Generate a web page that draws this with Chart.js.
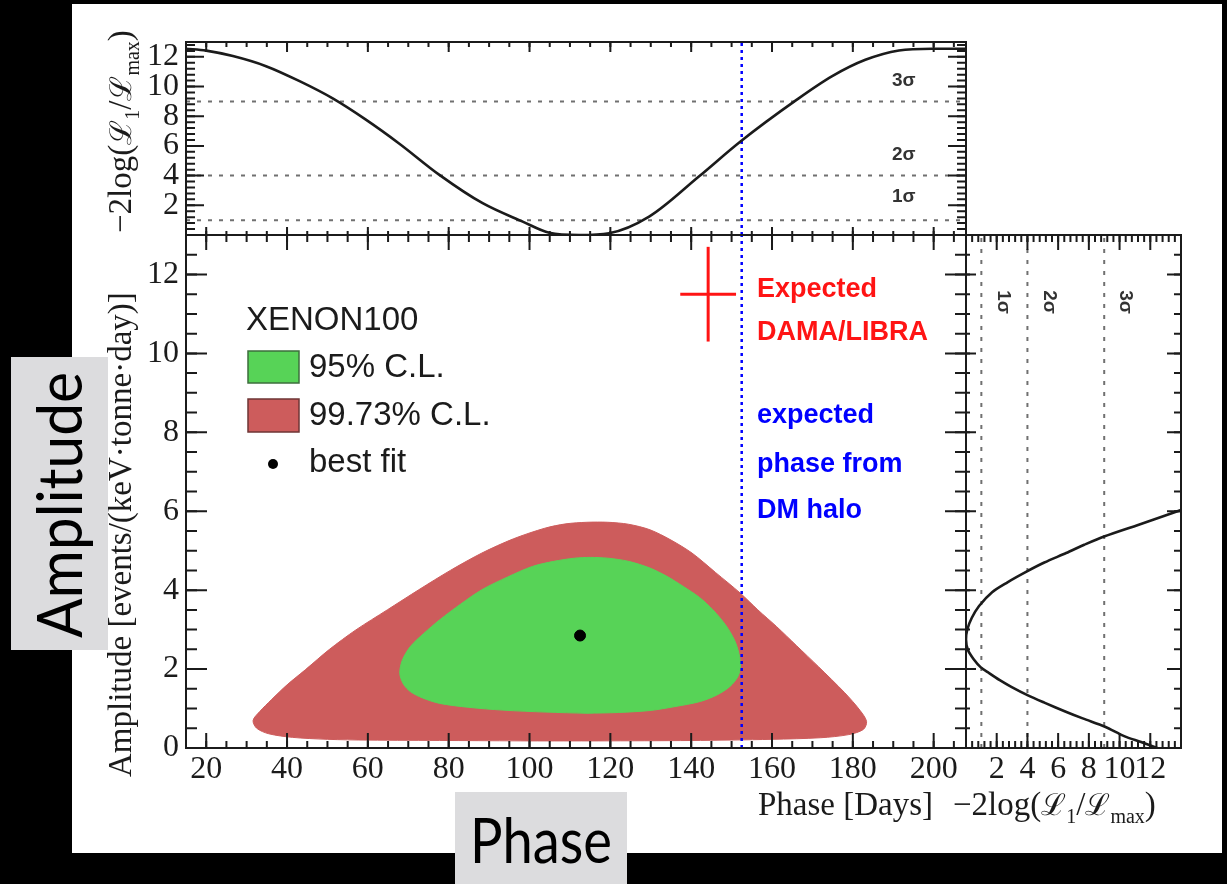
<!DOCTYPE html>
<html>
<head>
<meta charset="utf-8">
<title>XENON100 annual modulation: amplitude vs phase</title>
<script src="https://cdn.jsdelivr.net/npm/chart.js@4.4.1/dist/chart.umd.min.js"></script>
<style>
  html, body { margin: 0; padding: 0; background: #000; }
  body { width: 1227px; height: 884px; position: relative; overflow: hidden; }
  #sheet { position: absolute; left: 72px; top: 4px; width: 1150px; height: 849px; background: #fff; }
  canvas { position: absolute; left: 0; top: 0; }
</style>
</head>
<body>
<div id="sheet"></div>
<canvas id="phaseProfile" width="1227" height="884"></canvas>
<canvas id="contourPlane" width="1227" height="884"></canvas>
<canvas id="ampProfile" width="1227" height="884"></canvas>
<script>
// ---------------- data ----------------
// axis ranges
const PHASE_MIN = 15, PHASE_MAX = 208;        // days
const AMP_MIN = 0, AMP_MAX = 13;              // events/(keV tonne day)
const LL_MIN = 0, LL_MAX_TOP = 13, LL_MAX_SIDE = 14;

// labelled tick values
const phaseTicks = [20, 40, 60, 80, 100, 120, 140, 160, 180, 200];
const ampTicks = [0, 2, 4, 6, 8, 10, 12];
const llTopTicks = [2, 4, 6, 8, 10, 12];
const llSideTicks = [2, 4, 6, 8, 10, 12];

// confidence levels of -2 log(L1/Lmax)
const sigmaLevels = [1, 4, 9];
const sigmaNames = ['1\u03c3', '2\u03c3', '3\u03c3'];

// profile likelihood as a function of phase (upper panel)
const profPhaseDays = [15, 20, 26.6, 34.8, 43.1, 51.3, 59.5, 67.8, 77.7, 88.4, 98.3, 104.9, 112.3, 119.7, 129.6, 141.9, 152.2, 165.8, 174.9, 183.1, 191.4, 199.6, 208];
const profPhaseLL   = [12.55, 12.42, 12.05, 11.37, 10.36, 9.2, 7.77, 6.15, 4.05, 2.14, 0.9, 0.15, 0.0, 0.12, 1.24, 3.94, 6.3, 9.05, 10.7, 11.8, 12.43, 12.55, 12.55];

// profile likelihood as a function of amplitude (side panel)
const profAmpValues = [0.0, 0.15, 0.3, 0.54, 0.75, 0.92, 1.15, 1.34, 1.55, 1.72, 1.9, 2.05, 2.25, 2.49, 2.75, 3.0, 3.3, 3.6, 3.95, 4.2, 4.47, 4.7, 4.94, 5.15, 5.36, 5.66, 5.95, 6.1];
const profAmpLL     = [12.45, 11.4, 10.3, 9.05, 7.6, 6.5, 5.1, 4.0, 2.95, 2.2, 1.5, 0.95, 0.5, 0.12, 0.0, 0.08, 0.38, 0.85, 1.7, 2.7, 3.94, 5.1, 6.52, 7.7, 8.99, 11.25, 13.4, 14.5];

// 99.73% C.L. contour (phase, amplitude)
const cl9973Phase = [117, 140, 160, 172, 179, 182.6, 183.4, 181.8, 178, 171.5, 166, 161.1, 156.5, 152.2, 146, 140.2, 135, 129.8, 124.5, 119.4, 114.2, 109, 103.8, 96, 88.2, 80.4, 72.6, 64.8, 57, 50.5, 44.5, 40, 36.1, 33.3, 31.6, 32.5, 35.5, 41.3, 50, 60, 80, 100, 117];
const cl9973Amp   = [0.18, 0.19, 0.22, 0.26, 0.34, 0.47, 0.67, 0.95, 1.4, 2.06, 2.6, 3.08, 3.5, 3.92, 4.45, 4.94, 5.27, 5.53, 5.67, 5.72, 5.72, 5.68, 5.57, 5.3, 4.94, 4.5, 4.01, 3.5, 2.99, 2.5, 1.98, 1.6, 1.22, 0.93, 0.7, 0.5, 0.36, 0.27, 0.22, 0.2, 0.19, 0.18, 0.18];

// 95% C.L. contour (phase, amplitude)
const cl95Phase = [114.2, 122, 129.8, 136, 142.3, 146.5, 149.6, 151.5, 152.2, 151.8, 150.7, 148.5, 145.4, 142, 138.1, 134, 129.8, 124.5, 119.4, 115, 111.1, 106, 100.7, 94.5, 88.2, 83, 77.8, 73.8, 70.5, 68.5, 67.9, 68.8, 70.5, 73.5, 77.8, 85, 93.4, 104, 114.2];
const cl95Amp   = [0.88, 0.9, 0.95, 1.05, 1.18, 1.35, 1.56, 1.8, 2.06, 2.4, 2.74, 3.12, 3.5, 3.82, 4.09, 4.35, 4.56, 4.73, 4.81, 4.83, 4.81, 4.73, 4.6, 4.33, 4.01, 3.65, 3.25, 2.9, 2.57, 2.22, 1.89, 1.62, 1.43, 1.27, 1.13, 1.03, 0.96, 0.91, 0.88];

// best fit, expected halo phase, DAMA/LIBRA expectation
const bestFitPhase = [112.5];
const bestFitAmp = [2.85];
const haloPhase = 152.5;
const damaPhase = 144.2, damaPhaseErr = 6.9;
const damaAmp = 11.5, damaAmpErr = 1.2;

// ---------------- styling ----------------
const SERIF = "'Liberation Serif', 'DejaVu Serif', serif";
const SANS = "'Liberation Sans', Arial, sans-serif";
const INK = '#1b1b1b';
const RED_FILL = '#cd5c5c';
const GREEN_FILL = '#57d357';
const DOT_GREY = '#707070';
const HALO_BLUE = '#0000ff';
const DAMA_RED = '#ff1414';
const TAG_GREY = '#dcdcde';

// frame edges in page pixels
const FRAME = { left: 186, split: 966, right: 1181, top: 42, mid: 235, bottom: 748 };
const PAGE = { w: 1227, h: 884 };
const Y_LABEL_BAND = 60;   // room kept for the y tick labels
const X_LABEL_BAND = 50;   // room kept for the x tick labels

// ---------------- helpers ----------------
const pts = (xs, ys) => xs.map((x, i) => ({ x, y: ys[i] }));
function range(a, b, step) {
  const out = [];
  for (let v = a; v <= b + 1e-9; v += step) out.push(Math.round(v * 1000) / 1000);
  return out;
}
const phaseMinor = range(15, 205, 5);
const ampMinor = range(0, 13, 0.5);
const llTopMajor = range(0, 12, 2);
const llTopMinor = range(0, 13, 0.4);
const llSideMajor = range(0, 14, 2);
const llSideMinor = range(0, 14, 0.4);

const tickFont = { family: SERIF, size: 32 };

function labelledAxis(kind, min, max, values, padding) {
  return {
    type: 'linear', min, max,
    position: kind === 'x' ? 'bottom' : 'left',
    grid: { display: false, drawTicks: false, tickLength: 0 },
    border: { display: false },
    ticks: { font: tickFont, color: INK, padding, autoSkip: false, maxRotation: 0, minRotation: 0 },
    afterBuildTicks: s => { s.ticks = values.map(v => ({ value: v })); },
    afterFit: s => { if (kind === 'x') s.height = X_LABEL_BAND; else s.width = Y_LABEL_BAND; }
  };
}
function hiddenAxis(kind, min, max) {
  return { type: 'linear', min, max, display: false, position: kind === 'x' ? 'bottom' : 'left' };
}

// box frame with inward-pointing ticks drawn through the chart's scales
function frameWithTicks(sides) {
  return {
    id: 'frameWithTicks',
    afterDatasetsDraw(chart) {
      const { ctx, chartArea: a } = chart;
      ctx.save();
      ctx.strokeStyle = INK;
      ctx.lineWidth = 2;
      ctx.strokeRect(a.left, a.top, a.right - a.left, a.bottom - a.top);
      for (const side of sides) {
        const s = chart.scales[side.scale];
        const mark = (vals, len) => {
          ctx.beginPath();
          for (const v of vals) {
            if (v < s.min || v > s.max) continue;
            const p = s.getPixelForValue(v);
            if (side.edge === 'bottom') { ctx.moveTo(p, a.bottom); ctx.lineTo(p, a.bottom - len); }
            else if (side.edge === 'top') { ctx.moveTo(p, a.top); ctx.lineTo(p, a.top + len); }
            else if (side.edge === 'left') { ctx.moveTo(a.left, p); ctx.lineTo(a.left + len, p); }
            else { ctx.moveTo(a.right, p); ctx.lineTo(a.right - len, p); }
          }
          ctx.stroke();
        };
        mark(side.minor, side.minorLen);
        mark(side.major, side.majorLen);
      }
      ctx.restore();
    }
  };
}

// text with sub-scripted pieces: parts = [text, size, dy]
function richText(ctx, parts, x, y, angle, align, color) {
  ctx.save();
  ctx.translate(x, y);
  ctx.rotate(angle);
  ctx.fillStyle = color || INK;
  ctx.textBaseline = 'alphabetic';
  ctx.textAlign = 'left';
  let total = 0;
  for (const p of parts) { ctx.font = p[1] + 'px ' + SERIF; total += ctx.measureText(p[0]).width; }
  let cx = align === 'right' ? -total : (align === 'center' ? -total / 2 : 0);
  for (const p of parts) {
    ctx.font = p[1] + 'px ' + SERIF;
    ctx.fillText(p[0], cx, p[2] || 0);
    cx += ctx.measureText(p[0]).width;
  }
  ctx.restore();
}
const llTitle = [['\u22122log(', 33], ['\u2112', 30], ['1', 20, 8], ['/', 33], ['\u2112', 30], ['max', 20, 8], [')', 33]];

const commonOptions = (padding, scales) => ({
  responsive: false,
  animation: false,
  events: [],
  layout: { padding },
  plugins: { legend: { display: false }, tooltip: { enabled: false } },
  scales
});

// ---------------- upper panel: -2logL vs phase ----------------
new Chart(document.getElementById('phaseProfile'), {
  type: 'scatter',
  data: {
    datasets: [
      {
        data: pts(profPhaseDays, profPhaseLL), showLine: true, borderColor: INK, borderWidth: 2.6,
        pointRadius: 0, cubicInterpolationMode: 'monotone', order: 1
      },
      ...sigmaLevels.map(l => ({
        data: [{ x: PHASE_MIN, y: l }, { x: PHASE_MAX, y: l }], showLine: true, borderColor: DOT_GREY,
        borderWidth: 2, borderDash: [4, 7], pointRadius: 0, order: 3
      })),
      {
        data: [{ x: haloPhase, y: LL_MIN }, { x: haloPhase, y: LL_MAX_TOP }], showLine: true, borderColor: HALO_BLUE,
        borderWidth: 2.5, borderDash: [3, 4], pointRadius: 0, order: 2
      }
    ]
  },
  options: commonOptions(
    { left: FRAME.left - Y_LABEL_BAND, top: FRAME.top, right: PAGE.w - FRAME.split, bottom: PAGE.h - FRAME.mid },
    { x: hiddenAxis('x', PHASE_MIN, PHASE_MAX), y: labelledAxis('y', LL_MIN, LL_MAX_TOP, llTopTicks, 7) }
  ),
  plugins: [
    frameWithTicks([
      { scale: 'x', edge: 'bottom', major: phaseTicks, minor: phaseMinor, majorLen: 8, minorLen: 4 },
      { scale: 'x', edge: 'top', major: phaseTicks, minor: phaseMinor, majorLen: 10, minorLen: 5 },
      { scale: 'y', edge: 'left', major: llTopMajor, minor: llTopMinor, majorLen: 18, minorLen: 9 },
      { scale: 'y', edge: 'right', major: llTopMajor, minor: llTopMinor, majorLen: 18, minorLen: 9 }
    ]),
    {
      id: 'phaseProfileText',
      afterDraw(chart) {
        const { ctx, scales: { x, y }, chartArea: a } = chart;
        ctx.save();
        ctx.fillStyle = '#333';
        ctx.font = 'bold 19px ' + SANS;
        ctx.textAlign = 'center';
        ctx.textBaseline = 'middle';
        const labelLL = [2.55, 5.4, 10.4];
        sigmaNames.forEach((n, i) => ctx.fillText(n, x.getPixelForValue(192.6), y.getPixelForValue(labelLL[i])));
        ctx.restore();
        richText(ctx, llTitle, 131, a.bottom - 2, -Math.PI / 2, 'left');
      }
    }
  ]
});

// ---------------- main panel: amplitude vs phase ----------------
new Chart(document.getElementById('contourPlane'), {
  type: 'scatter',
  data: {
    datasets: [
      {
        label: '99.73% C.L.', data: pts(cl9973Phase, cl9973Amp), showLine: true, fill: 'shape',
        backgroundColor: RED_FILL, borderColor: RED_FILL, borderWidth: 1, pointRadius: 0, tension: 0.3, order: 6
      },
      {
        label: '95% C.L.', data: pts(cl95Phase, cl95Amp), showLine: true, fill: 'shape',
        backgroundColor: GREEN_FILL, borderColor: GREEN_FILL, borderWidth: 1, pointRadius: 0, tension: 0.3, order: 5
      },
      {
        label: 'best fit', data: pts(bestFitPhase, bestFitAmp), pointRadius: 5.5,
        backgroundColor: '#000', borderColor: '#000', order: 3
      },
      {
        label: 'expected phase', data: [{ x: haloPhase, y: AMP_MIN }, { x: haloPhase, y: AMP_MAX }], showLine: true,
        borderColor: HALO_BLUE, borderWidth: 2.5, borderDash: [3, 4], pointRadius: 0, order: 4
      },
      {
        label: 'DAMA/LIBRA phase', data: [{ x: damaPhase - damaPhaseErr, y: damaAmp }, { x: damaPhase + damaPhaseErr, y: damaAmp }],
        showLine: true, borderColor: DAMA_RED, borderWidth: 3, pointRadius: 0, order: 1
      },
      {
        label: 'DAMA/LIBRA amplitude', data: [{ x: damaPhase, y: damaAmp - damaAmpErr }, { x: damaPhase, y: damaAmp + damaAmpErr }],
        showLine: true, borderColor: DAMA_RED, borderWidth: 3, pointRadius: 0, order: 1
      }
    ]
  },
  options: commonOptions(
    { left: FRAME.left - Y_LABEL_BAND, top: FRAME.mid, right: PAGE.w - FRAME.split, bottom: PAGE.h - FRAME.bottom - X_LABEL_BAND },
    { x: labelledAxis('x', PHASE_MIN, PHASE_MAX, phaseTicks, 2), y: labelledAxis('y', AMP_MIN, AMP_MAX, ampTicks, 7) }
  ),
  plugins: [
    frameWithTicks([
      { scale: 'x', edge: 'bottom', major: phaseTicks, minor: phaseMinor, majorLen: 15, minorLen: 7 },
      { scale: 'x', edge: 'top', major: phaseTicks, minor: phaseMinor, majorLen: 15, minorLen: 7 },
      { scale: 'y', edge: 'left', major: ampTicks, minor: ampMinor, majorLen: 21, minorLen: 11 },
      { scale: 'y', edge: 'right', major: ampTicks, minor: ampMinor, majorLen: 21, minorLen: 11 }
    ]),
    {
      id: 'contourText',
      afterDraw(chart) {
        const { ctx, chartArea: a } = chart;
        ctx.save();
        // legend
        ctx.fillStyle = INK;
        ctx.textAlign = 'left';
        ctx.textBaseline = 'alphabetic';
        ctx.font = '33px ' + SANS;
        ctx.fillText('XENON100', 246, 330);
        ctx.fillStyle = GREEN_FILL; ctx.fillRect(248, 351, 51, 32);
        ctx.strokeStyle = '#3d6e3d'; ctx.lineWidth = 1.5; ctx.strokeRect(248, 351, 51, 32);
        ctx.fillStyle = RED_FILL; ctx.fillRect(248, 399, 51, 33);
        ctx.strokeStyle = '#6e3535'; ctx.strokeRect(248, 399, 51, 33);
        ctx.fillStyle = '#000';
        ctx.beginPath(); ctx.arc(273, 464, 5, 0, Math.PI * 2); ctx.fill();
        ctx.fillStyle = INK;
        ctx.fillText('95% C.L.', 309, 377);
        ctx.fillText('99.73% C.L.', 309, 425);
        ctx.fillText('best fit', 309, 472);
        // annotations
        ctx.font = 'bold 27px ' + SANS;
        ctx.fillStyle = DAMA_RED;
        ctx.fillText('Expected', 757, 297);
        ctx.fillText('DAMA/LIBRA', 757, 340);
        ctx.fillStyle = HALO_BLUE;
        ctx.fillText('expected', 757, 423);
        ctx.fillText('phase from', 757, 472);
        ctx.fillText('DM halo', 757, 518);
        ctx.restore();
        // axis titles
        richText(ctx, [['Amplitude [events/(keV\u00b7tonne\u00b7day)]', 33]], 131, a.bottom + 29, -Math.PI / 2, 'left');
        richText(ctx, [['Phase [Days]', 33]], 933, 815, 0, 'right');
      }
    }
  ]
});

// ---------------- side panel: -2logL vs amplitude ----------------
new Chart(document.getElementById('ampProfile'), {
  type: 'scatter',
  data: {
    datasets: [
      {
        data: pts(profAmpLL, profAmpValues), showLine: true, borderColor: INK, borderWidth: 2.6,
        pointRadius: 0, tension: 0.3, order: 1
      },
      ...sigmaLevels.map(l => ({
        data: [{ x: l, y: AMP_MIN }, { x: l, y: AMP_MAX }], showLine: true, borderColor: DOT_GREY,
        borderWidth: 2, borderDash: [4, 7], pointRadius: 0, order: 2
      }))
    ]
  },
  options: commonOptions(
    { left: FRAME.split, top: FRAME.mid, right: PAGE.w - FRAME.right, bottom: PAGE.h - FRAME.bottom - X_LABEL_BAND },
    { x: labelledAxis('x', LL_MIN, LL_MAX_SIDE, llSideTicks, 2), y: hiddenAxis('y', AMP_MIN, AMP_MAX) }
  ),
  plugins: [
    frameWithTicks([
      { scale: 'x', edge: 'bottom', major: llSideMajor, minor: llSideMinor, majorLen: 15, minorLen: 7 },
      { scale: 'x', edge: 'top', major: llSideMajor, minor: llSideMinor, majorLen: 15, minorLen: 7 },
      { scale: 'y', edge: 'left', major: ampTicks, minor: ampMinor, majorLen: 10, minorLen: 4 },
      { scale: 'y', edge: 'right', major: ampTicks, minor: ampMinor, majorLen: 14, minorLen: 7 }
    ]),
    {
      id: 'ampProfileText',
      afterDraw(chart) {
        const { ctx, scales: { x, y } } = chart;
        ctx.save();
        ctx.fillStyle = '#333';
        ctx.font = 'bold 19px ' + SANS;
        ctx.textAlign = 'center';
        ctx.textBaseline = 'middle';
        const labelLL = [2.45, 5.45, 10.35];
        sigmaNames.forEach((n, i) => {
          ctx.save();
          ctx.translate(x.getPixelForValue(labelLL[i]), y.getPixelForValue(11.3));
          ctx.rotate(Math.PI / 2);
          ctx.fillText(n, 0, 0);
          ctx.restore();
        });
        ctx.restore();
        richText(ctx, llTitle, 953, 815, 0, 'left');

        // grey caption tags
        ctx.save();
        ctx.fillStyle = TAG_GREY;
        ctx.fillRect(11, 357, 97, 293);
        ctx.fillRect(455, 792, 172, 92);
        ctx.fillStyle = '#000';
        ctx.font = '62px Lato, ' + SANS;
        ctx.textBaseline = 'alphabetic';
        ctx.textAlign = 'center';
        const wA = ctx.measureText('Amplitude').width;
        ctx.save();
        ctx.translate(82, 505);
        ctx.rotate(-Math.PI / 2);
        ctx.scale(266 / wA, 1);
        ctx.fillText('Amplitude', 0, 0);
        ctx.restore();
        const wP = ctx.measureText('Phase').width;
        ctx.save();
        ctx.translate(541, 863);
        ctx.scale(142 / wP, 1);
        ctx.fillText('Phase', 0, 0);
        ctx.restore();
        ctx.restore();
      }
    }
  ]
});
</script>
</body>
</html>
